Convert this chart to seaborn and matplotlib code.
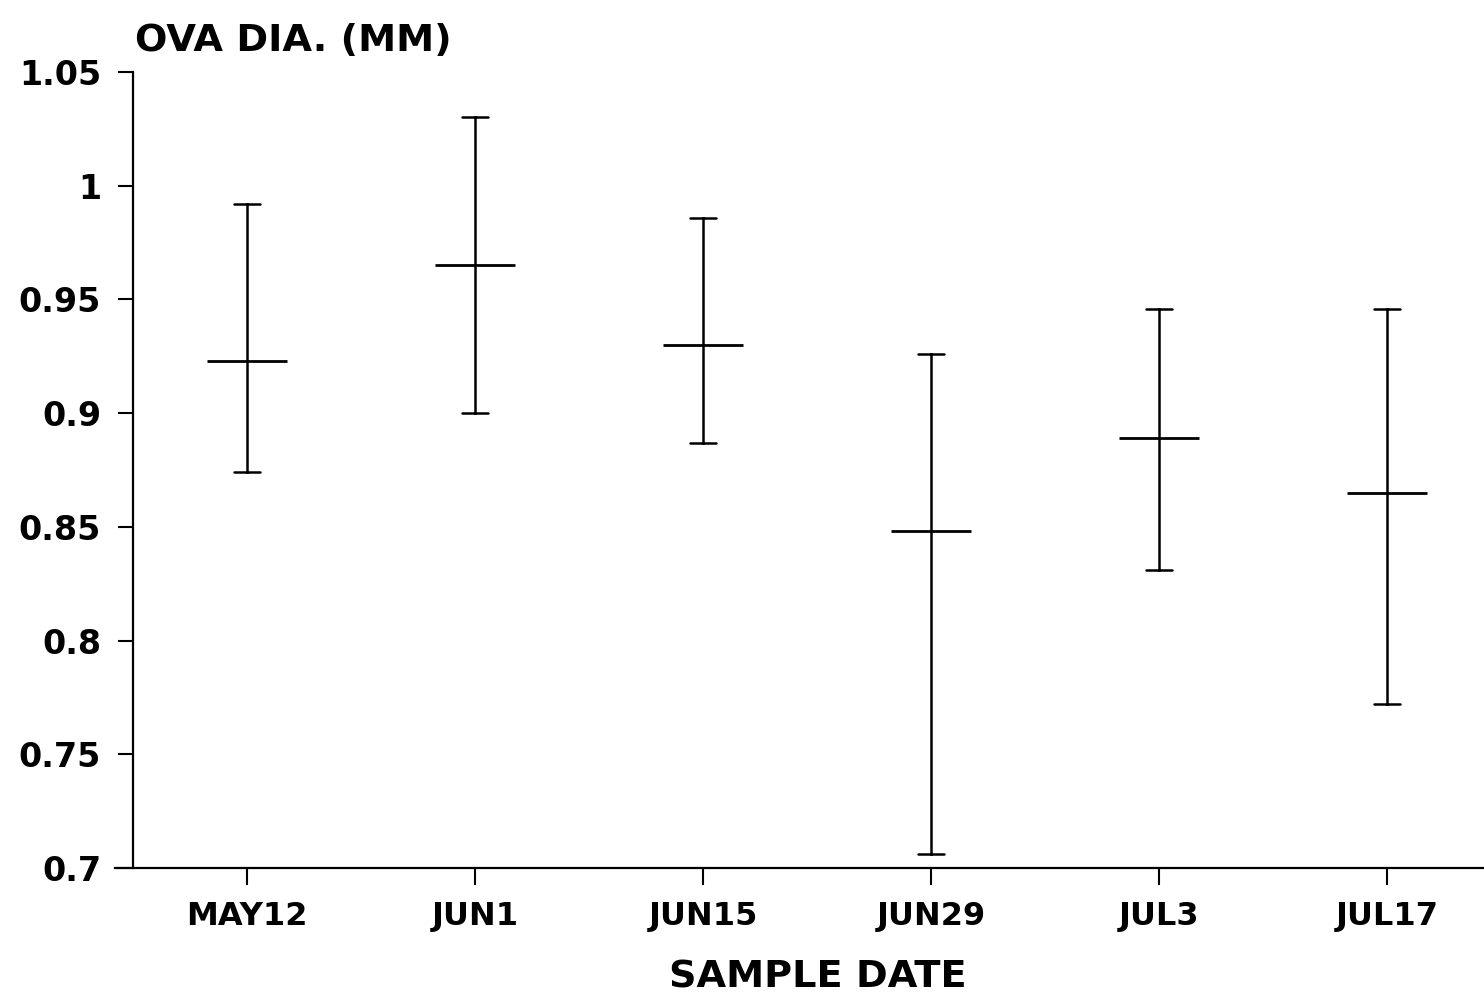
import numpy as np
import pandas as pd
import matplotlib
matplotlib.use("Agg")
import matplotlib.pyplot as plt
import seaborn as sns

dates = ["MAY12", "JUN1", "JUN15", "JUN29", "JUL3", "JUL17"]
means = [0.923, 0.965, 0.930, 0.848, 0.889, 0.865]
lows = [0.874, 0.900, 0.887, 0.706, 0.831, 0.772]
highs = [0.992, 1.030, 0.986, 0.926, 0.946, 0.946]

rows = []
for d, lo, m, hi in zip(dates, lows, means, highs):
    for v in (lo, m, hi):
        rows.append({"date": d, "dia": v})
df = pd.DataFrame(rows)

sns.set_theme(style="ticks")
plt.rcParams["font.family"] = ["DejaVu Sans"]
plt.rcParams["font.weight"] = "bold"
plt.rcParams["text.color"] = "black"

W, H = 1484, 999
fig = plt.figure(figsize=(W / 100, H / 100), dpi=100)
ax = fig.add_axes([115 / W, 1 - 868 / H, (W - 115) / W, (868 - 72) / H])

sns.pointplot(data=df, x="date", y="dia", order=dates,
              estimator="median", errorbar=("pi", 100),
              linestyle="none", marker="_", markersize=58,
              markeredgewidth=2.0, color="black", capsize=0.115,
              err_kws={"linewidth": 1.8}, ax=ax)

ax.set_ylim(0.7, 1.05)
ax.set_xlim(-0.579, 5.425)
ax.set_yticks([0.7, 0.75, 0.8, 0.85, 0.9, 0.95, 1.0, 1.05])
ax.set_yticklabels(["0.7", "0.75", "0.8", "0.85", "0.9", "0.95", "1", "1.05"])
ax.spines["left"].set_position(("data", -0.5))
ax.spines["top"].set_visible(False)
ax.spines["right"].set_visible(False)
for s in ("left", "bottom"):
    ax.spines[s].set_linewidth(1.6)
    ax.spines[s].set_color("black")
ax.tick_params(axis="y", length=11, width=1.5, pad=12, labelsize=24, colors="black")
ax.tick_params(axis="x", length=12, width=1.5, pad=12, labelsize=23, colors="black")
for lab in ax.get_xticklabels() + ax.get_yticklabels():
    lab.set_fontweight("bold")
ax.set_xlabel("")
ax.set_ylabel("")

fig.text(135 / W, 1 - 51 / H, "OVA DIA. (MM)", fontsize=27.5, fontweight="bold",
         ha="left", va="baseline", color="black")
fig.text(818 / W, 1 - 987 / H, "SAMPLE DATE", fontsize=27.5, fontweight="bold",
         ha="center", va="baseline", color="black")

fig.savefig("out.png", dpi=100, facecolor="white")
